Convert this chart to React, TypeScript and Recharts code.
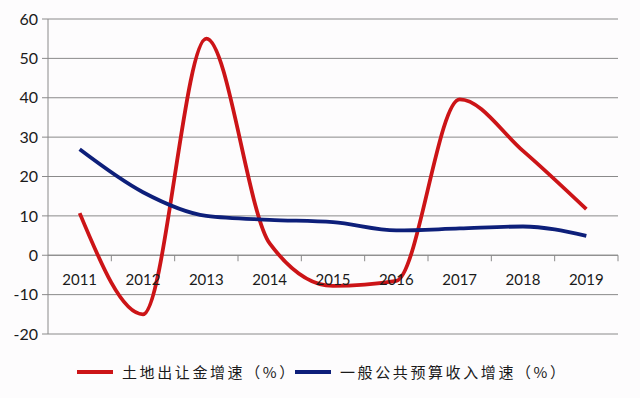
import React from "react";
import { LineChart, Line, XAxis, YAxis, CartesianGrid, Legend, ReferenceLine } from "recharts";

const years = ["2011", "2012", "2013", "2014", "2015", "2016", "2017", "2018", "2019"];
const landSaleGrowth = [10.7, -15, 55, 3, -7.8, -6.5, 39.6, 26.5, 11.7];
const budgetRevenueGrowth = [26.9, 16, 10, 9, 8.4, 6.3, 6.8, 7.3, 4.9];
const yTicks = [-20, -10, 0, 10, 20, 30, 40, 50, 60];
const seriesNames = ["土地出让金增速（%）", "一般公共预算收入增速（%）"];

const data = years.map((y, i) => ({ year: y, land: landSaleGrowth[i], budget: budgetRevenueGrowth[i] }));

const W = 640, H = 398;
const M = { top: 19, right: 22, left: 0, bottom: 0 };
const Y_AXIS_W = 48;
const X_AXIS_H = 20;
const LEGEND_H = 44;
const plotTop = M.top;
const plotBottom = H - LEGEND_H - X_AXIS_H;
const plotLeft = Y_AXIS_W;
const plotRight = W - M.right;
const yMin = -20, yMax = 60;
const zeroY = plotTop + ((yMax - 0) / (yMax - yMin)) * (plotBottom - plotTop);
const halfBand = (plotRight - plotLeft) / years.length / 2;

const RED = "#cc1417";
const BLUE = "#0d1f7a";
const GRID = "#8a8a8a";
const FONT = "Lato, 'Noto Sans', sans-serif";

const XTick = (props: any) => {
  const { x, payload } = props;
  return (
    <g>
      <line x1={x + halfBand} x2={x + halfBand} y1={zeroY} y2={zeroY + 6} stroke={GRID} strokeWidth={1} />
      <text x={x} y={zeroY + 30} textAnchor="middle" fontSize={15} fill="#1a1a1a" fontFamily={FONT}>
        {payload.value}
      </text>
    </g>
  );
};

const LegendContent = () => {
  const colors = [RED, BLUE];
  const starts = [77, 295];
  return (
    <div style={{ position: "relative", height: LEGEND_H, width: W }}>
      {seriesNames.map((n, i) => (
        <div key={n} style={{ position: "absolute", left: starts[i], top: 8, display: "flex", alignItems: "center" }}>
          <div style={{ width: 36, height: 4, background: colors[i], marginRight: 9 }} />
          <span style={{ fontFamily: "'Noto Sans CJK SC', sans-serif", fontSize: 15, letterSpacing: 2.6, color: "#1a1a1a", lineHeight: "20px" }}>{n}</span>
        </div>
      ))}
    </div>
  );
};

export default function App() {
  return (
    <div style={{ position: "absolute", left: 0, top: 0, width: W, height: H, background: "#fdfcfd" }}>
      <LineChart width={W} height={H} data={data} margin={M}>
        <CartesianGrid horizontal vertical={false} stroke={GRID} strokeWidth={1} />
        <XAxis
          dataKey="year"
          height={X_AXIS_H}
          axisLine={false}
          tickLine={false}
          padding={{ left: halfBand, right: halfBand }}
          tick={<XTick />}
          interval={0}
        />
        <YAxis
          width={Y_AXIS_W}
          domain={[yMin, yMax]}
          ticks={yTicks}
          interval={0}
          axisLine={{ stroke: GRID }}
          tickLine={{ stroke: GRID }}
          tickSize={6}
          tickMargin={4}
          tick={{ fontSize: 16, fill: "#1a1a1a", fontFamily: FONT }}
        />
        <ReferenceLine y={0} stroke={GRID} strokeWidth={1} />
        <Line type="monotone" dataKey="land" name={seriesNames[0]} stroke={RED} strokeWidth={3.8} dot={false} isAnimationActive={false} />
        <Line type="monotone" dataKey="budget" name={seriesNames[1]} stroke={BLUE} strokeWidth={3.8} dot={false} isAnimationActive={false} />
        <Legend verticalAlign="bottom" height={LEGEND_H} content={<LegendContent />} wrapperStyle={{ left: 0, width: W }} />
      </LineChart>
    </div>
  );
}
